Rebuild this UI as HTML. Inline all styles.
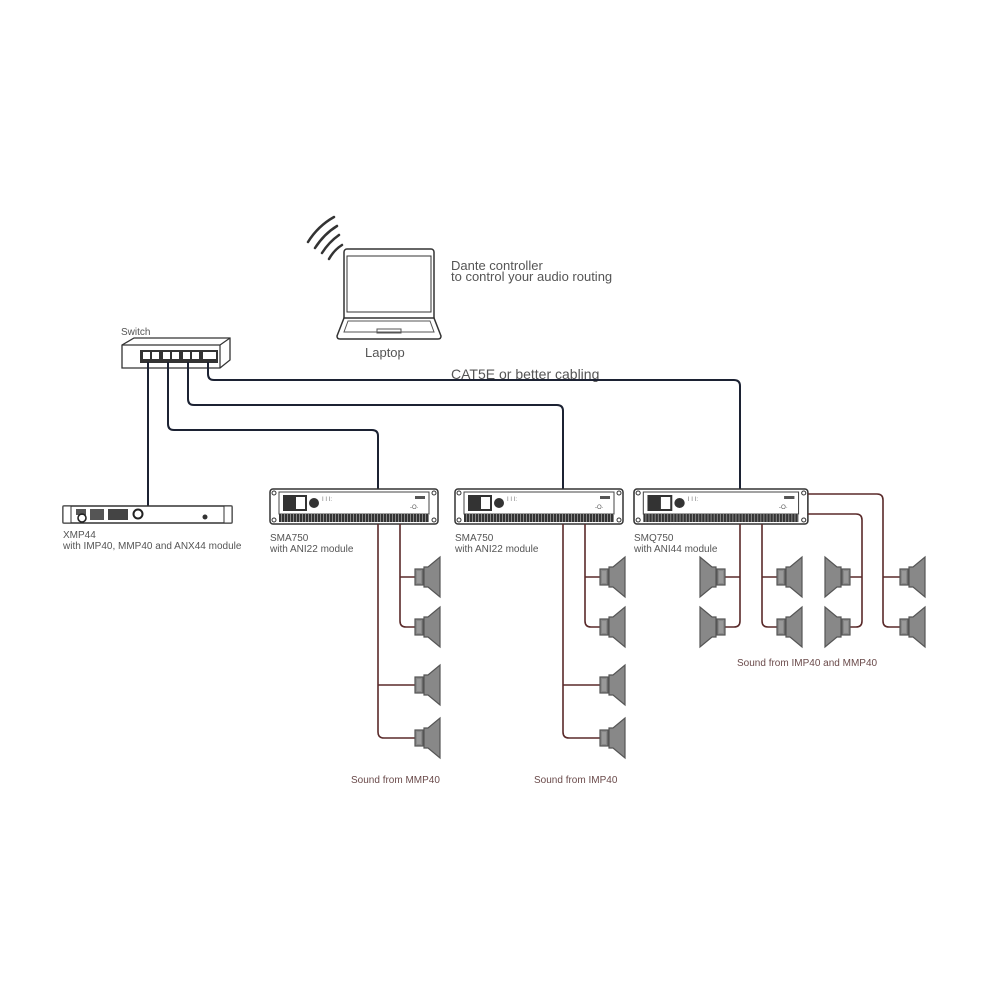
<!DOCTYPE html>
<html><head><meta charset="utf-8"><style>
html,body{margin:0;padding:0;background:#fff;}
svg{display:block;}
text{font-family:"Liberation Sans",Arial,sans-serif;fill:#555;}
</style></head><body>
<svg width="1000" height="1000" viewBox="0 0 1000 1000" xmlns="http://www.w3.org/2000/svg">
<defs>
<pattern id="grill" width="3" height="8" patternUnits="userSpaceOnUse"><rect width="3" height="8" fill="#333"/><rect x="2" width="1" height="8" fill="#888"/></pattern>
<g id="spk">
  <rect x="0" y="-8" width="8" height="16" fill="#888" stroke="#555" stroke-width="1.2"/>
  <rect x="2" y="-6" width="4" height="12" fill="#999"/>
  <polygon points="9,-10 13,-10 25,-20 25,20 13,10 9,10" fill="#888" stroke="#555" stroke-width="1.2"/>
</g>
<g id="amp">
  <rect x="0" y="0" width="168" height="35" rx="3" fill="#fff" stroke="#333" stroke-width="1.5"/>
  <rect x="9" y="3" width="150" height="22" fill="#fff" stroke="#444" stroke-width="1"/>
  <rect x="9" y="25" width="150" height="8" fill="url(#grill)"/>
  <rect x="13" y="6" width="24" height="16" fill="#333"/>
  <rect x="26" y="8" width="9" height="12" fill="#fff"/>
  <circle cx="44" cy="14" r="5" fill="#333"/>
  <circle cx="4" cy="4" r="2" fill="none" stroke="#333"/><circle cx="164" cy="4" r="2" fill="none" stroke="#333"/>
  <circle cx="4" cy="31" r="2" fill="none" stroke="#333"/><circle cx="164" cy="31" r="2" fill="none" stroke="#333"/>
  <rect x="145" y="7" width="10" height="3" fill="#555"/>
  <text x="52" y="12" font-size="6" style="fill:#777">I I I:</text>
  <text x="140" y="20" font-size="6" style="fill:#555">-O·</text>
</g>
</defs>

<!-- wifi -->
<g fill="none" stroke="#333" stroke-width="2.5" stroke-linecap="round">
  <path d="M308 242 Q318 226 334 217"/>
  <path d="M315 248 Q324 234 337 226"/>
  <path d="M322 253 Q329 242 339 235"/>
  <path d="M329 259 Q334 250 342 245"/>
</g>
<!-- laptop -->
<rect x="344" y="249" width="90" height="80" rx="3" fill="#fff" stroke="#333" stroke-width="1.5"/>
<rect x="347" y="256" width="84" height="56" fill="#fff" stroke="#333" stroke-width="1"/>
<path d="M344 318 L337 336 Q337 339 340 339 L438 339 Q441 339 441 336 L434 318 Z" fill="#fff" stroke="#333" stroke-width="1.5"/>
<path d="M348 321 L344 332 L434 332 L430 321 Z" fill="none" stroke="#555" stroke-width="1"/>
<rect x="377" y="329" width="24" height="4" fill="none" stroke="#555" stroke-width="1"/>
<text x="365" y="357" font-size="13">Laptop</text>
<text x="451" y="270" font-size="13">Dante controller</text>
<text x="451" y="281" font-size="13">to control your audio routing</text>
<text x="451" y="379" font-size="14">CAT5E or better cabling</text>

<!-- switch -->
<text x="121" y="335" font-size="10">Switch</text>
<path d="M122 345 L134 338 L230 338 L230 360 L220 368 L122 368 Z" fill="#fff" stroke="#333" stroke-width="1.3"/>
<path d="M122 345 L220 345 L230 338 M220 345 L220 368" fill="none" stroke="#333" stroke-width="1.2"/>
<rect x="140" y="350" width="78" height="13" fill="#333"/>
<g fill="#fff"><rect x="143" y="352" width="7" height="7"/><rect x="152" y="352" width="7" height="7"/><rect x="163" y="352" width="7" height="7"/><rect x="172" y="352" width="7" height="7"/><rect x="183" y="352" width="7" height="7"/><rect x="192" y="352" width="7" height="7"/><rect x="203" y="352" width="7" height="7"/><rect x="210" y="352" width="6" height="7"/></g>

<!-- network cables -->
<g fill="none" stroke="#1c2233" stroke-width="2">
  <path d="M148 362 L148 506"/>
  <path d="M168 362 L168 424 Q168 430 174 430 L372 430 Q378 430 378 436 L378 489"/>
  <path d="M188 362 L188 399 Q188 405 194 405 L557 405 Q563 405 563 411 L563 489"/>
  <path d="M208 362 L208 374 Q208 380 214 380 L734 380 Q740 380 740 386 L740 489"/>
</g>

<!-- XMP44 -->
<rect x="63" y="506" width="169" height="17" rx="1" fill="#fff" stroke="#333" stroke-width="1.5"/>
<rect x="63" y="506" width="8" height="17" fill="#fff" stroke="#333"/><rect x="224" y="506" width="8" height="17" fill="#fff" stroke="#333"/>
<rect x="76" y="509" width="10" height="6" fill="#555"/><circle cx="82" cy="518" r="4" fill="none" stroke="#222" stroke-width="1.6"/>
<rect x="90" y="509" width="14" height="11" fill="#555"/><rect x="108" y="509" width="20" height="11" fill="#444"/>
<circle cx="138" cy="514" r="4.5" fill="none" stroke="#222" stroke-width="2"/>
<circle cx="205" cy="517" r="2.5" fill="#333"/>
<text x="63" y="538" font-size="10">XMP44</text>
<text x="63" y="549" font-size="10">with IMP40, MMP40 and ANX44 module</text>

<!-- amps -->
<use href="#amp" x="270" y="489"/>
<use href="#amp" x="455" y="489"/>
<use href="#amp" x="634" y="489" transform="translate(634 489) scale(1.035 1) translate(-634 -489)"/>
<text x="270" y="541" font-size="10">SMA750</text><text x="270" y="552" font-size="10">with ANI22 module</text>
<text x="455" y="541" font-size="10">SMA750</text><text x="455" y="552" font-size="10">with ANI22 module</text>
<text x="634" y="541" font-size="10">SMQ750</text><text x="634" y="552" font-size="10">with ANI44 module</text>

<!-- speaker wires -->
<g fill="none" stroke="#5a2a2a" stroke-width="1.6">
  <path d="M378 524 L378 732 Q378 738 384 738 L415 738 M378 685 L415 685"/>
  <path d="M400 524 L400 621 Q400 627 406 627 L415 627 M400 577 L415 577"/>
  <path d="M563 524 L563 732 Q563 738 569 738 L600 738 M563 685 L600 685"/>
  <path d="M585 524 L585 621 Q585 627 591 627 L600 627 M585 577 L600 577"/>
  <path d="M740 524 L740 621 Q740 627 734 627 L725 627 M740 577 L725 577"/>
  <path d="M762 524 L762 621 Q762 627 768 627 L777 627 M762 577 L777 577"/>
  <path d="M808 514 L856 514 Q862 514 862 520 L862 621 Q862 627 856 627 L850 627 M862 577 L850 577"/>
  <path d="M808 494 L877 494 Q883 494 883 500 L883 621 Q883 627 889 627 L900 627 M883 577 L900 577"/>
</g>

<!-- speakers -->
<use href="#spk" x="415" y="577"/><use href="#spk" x="415" y="627"/><use href="#spk" x="415" y="685"/><use href="#spk" x="415" y="738"/>
<use href="#spk" x="600" y="577"/><use href="#spk" x="600" y="627"/><use href="#spk" x="600" y="685"/><use href="#spk" x="600" y="738"/>
<use href="#spk" x="777" y="577"/><use href="#spk" x="777" y="627"/>
<use href="#spk" x="900" y="577"/><use href="#spk" x="900" y="627"/>
<use href="#spk" transform="translate(725 577) scale(-1 1)"/><use href="#spk" transform="translate(725 627) scale(-1 1)"/>
<use href="#spk" transform="translate(850 577) scale(-1 1)"/><use href="#spk" transform="translate(850 627) scale(-1 1)"/>

<text x="737" y="666" font-size="10" style="fill:#6a4a4a">Sound from IMP40 and MMP40</text>
<text x="351" y="783" font-size="10" style="fill:#6a4a4a">Sound from MMP40</text>
<text x="534" y="783" font-size="10" style="fill:#6a4a4a">Sound from IMP40</text>
</svg>
</body></html>
